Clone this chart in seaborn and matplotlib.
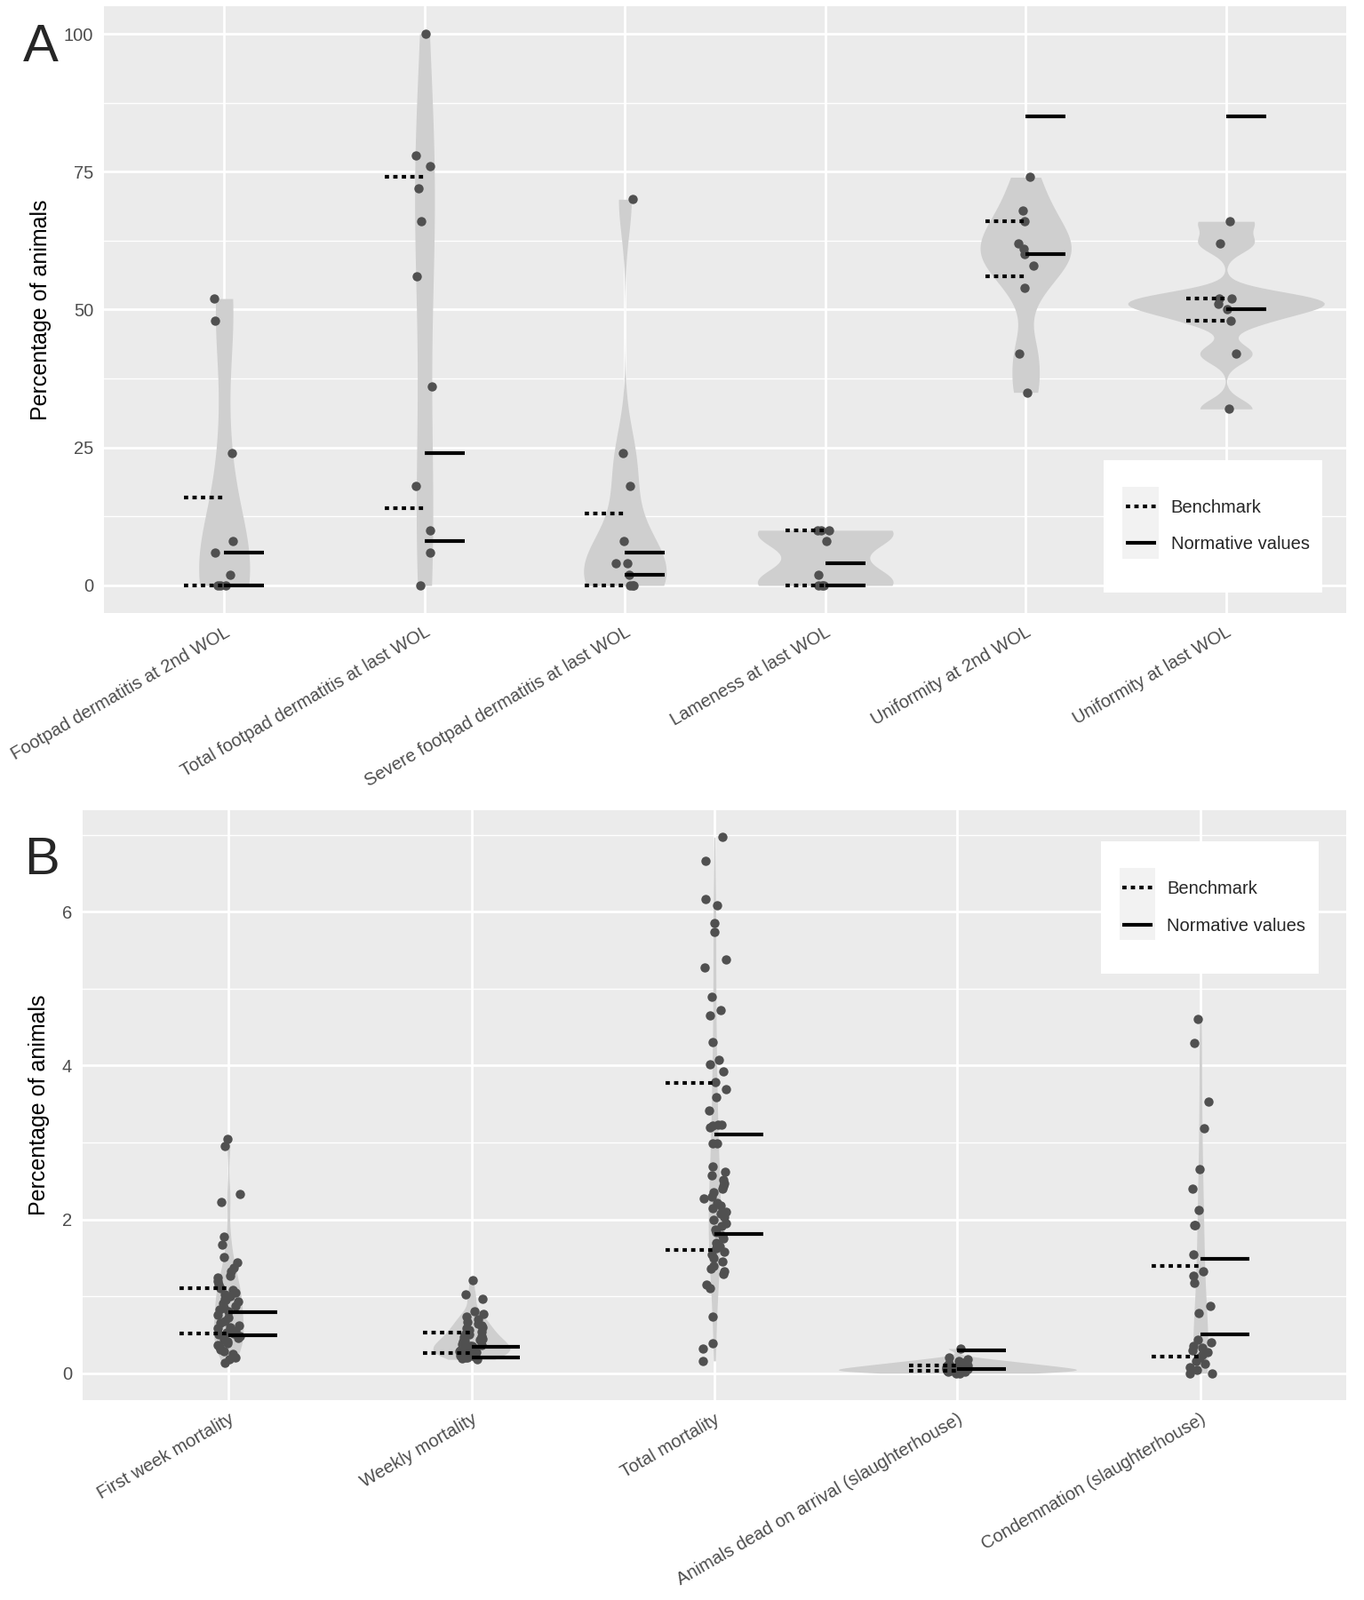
import numpy as np
import pandas as pd
import matplotlib
matplotlib.use("Agg")
import matplotlib.pyplot as plt
from matplotlib.lines import Line2D
from matplotlib.patches import Rectangle
from matplotlib.ticker import MultipleLocator
import seaborn as sns

# ---- panel A data (percent of animals) ----
cats_a = ["Footpad dermatitis at 2nd WOL", "Total footpad dermatitis at last WOL",
          "Severe footpad dermatitis at last WOL", "Lameness at last WOL",
          "Uniformity at 2nd WOL", "Uniformity at last WOL"]
fpd_2nd = [52, 48, 24, 8, 6, 2, 0, 0, 0]
fpd_total = [100, 78, 76, 72, 66, 56, 36, 18, 10, 6, 0]
fpd_severe = [70, 24, 18, 8, 4, 4, 2, 0, 0, 0]
lameness = [10, 10, 10, 8, 2, 0, 0, 0]
unif_2nd = [74, 68, 66, 62, 61, 60, 58, 54, 42, 35]
unif_last = [66, 62, 52, 52, 51, 50, 48, 42, 32]
bench_a = [[16, 0], [74, 14], [13, 0], [10, 0], [66, 56], [52, 48]]
norm_a = [[6, 0], [24, 8], [6, 2], [4, 0], [60, 85], [50, 85]]

# ---- panel B data ----
cats_b = ["First week mortality", "Weekly mortality", "Total mortality",
          "Animals dead on arrival (slaughterhouse)", "Condemnation (slaughterhouse)"]
first_week = [3.05, 2.95, 2.33, 2.23, 1.77, 1.67, 1.51, 1.44, 1.37, 1.32, 1.27, 1.24,
              1.20, 1.15, 1.11, 1.08, 1.05, 1.02, 1.00, 0.97, 0.95, 0.93, 0.91, 0.88,
              0.85, 0.83, 0.80, 0.76, 0.72, 0.68, 0.65, 0.62, 0.60, 0.58, 0.55, 0.53,
              0.52, 0.50, 0.48, 0.46, 0.44, 0.41, 0.39, 0.37, 0.34, 0.31, 0.29, 0.25,
              0.21, 0.18, 0.14]
weekly = [1.21, 1.02, 0.97, 0.80, 0.77, 0.74, 0.70, 0.67, 0.64, 0.62, 0.60, 0.58,
          0.56, 0.54, 0.52, 0.50, 0.48, 0.47, 0.45, 0.44, 0.42, 0.41, 0.40, 0.38,
          0.37, 0.36, 0.35, 0.34, 0.33, 0.32, 0.31, 0.30, 0.29, 0.28, 0.27, 0.26,
          0.25, 0.24, 0.23, 0.22, 0.21, 0.20, 0.19, 0.18]
total = [6.97, 6.66, 6.16, 6.08, 5.85, 5.74, 5.38, 5.27, 4.89, 4.72, 4.65, 4.31,
         4.07, 4.02, 3.92, 3.78, 3.69, 3.59, 3.41, 3.23, 3.23, 3.22, 3.20, 2.99,
         2.99, 2.69, 2.62, 2.57, 2.52, 2.47, 2.43, 2.40, 2.35, 2.30, 2.27, 2.22,
         2.18, 2.15, 2.10, 2.07, 2.03, 2.00, 1.95, 1.91, 1.87, 1.83, 1.79, 1.75,
         1.70, 1.65, 1.62, 1.58, 1.55, 1.50, 1.45, 1.40, 1.36, 1.32, 1.29, 1.15,
         1.10, 0.74, 0.39, 0.32, 0.16]
doa = [0.32, 0.20, 0.18, 0.16, 0.15, 0.14, 0.13, 0.12, 0.11, 0.10, 0.10, 0.09,
       0.08, 0.08, 0.07, 0.06, 0.06, 0.05, 0.05, 0.04, 0.04, 0.03, 0.03, 0.02,
       0.02, 0.01, 0.01, 0.0, 0.0]
condemnation = [4.61, 4.29, 3.53, 3.19, 2.65, 2.40, 2.12, 1.93, 1.93, 1.55, 1.32,
                1.27, 1.17, 0.88, 0.78, 0.43, 0.40, 0.36, 0.33, 0.30, 0.27, 0.24,
                0.20, 0.16, 0.12, 0.08, 0.04, 0.0, 0.0]
bench_b = [[1.11, 0.52], [0.53, 0.26], [3.77, 1.60], [0.10, 0.03], [1.39, 0.22]]
norm_b = [[0.79, 0.49], [0.34, 0.20], [3.10, 1.81], [0.30, 0.05], [1.49, 0.50]]

VIOLIN = "#CFCFCF"
POINT = "#505050"
LW = 3.0
DOTTED = (0, (1.15, 1.15))


def nrd0(x):
    # R's default bandwidth, like ggplot's geom_violin
    x = np.asarray(x, float)
    sd = x.std(ddof=1)
    q75, q25 = np.percentile(x, [75, 25])
    lo = min(sd, (q75 - q25) / 1.34)
    if lo == 0:
        lo = sd
    return 0.9 * lo * len(x) ** -0.2


def peak_density(x, bw):
    x = np.asarray(x, float)
    grid = np.linspace(x.min(), x.max(), 200)
    z = (grid[:, None] - x[None, :]) / bw
    d = np.exp(-0.5 * z ** 2).sum(1) / (len(x) * bw * np.sqrt(2 * np.pi))
    return d.max()


def draw_panel(ax, cats, vals, bench, norm, ylim, major, minor, leg_box):
    bws = [nrd0(v) for v in vals]
    peaks = [peak_density(v, b) for v, b in zip(vals, bws)]
    top = max(peaks)
    # one violin per call so each group keeps its own bandwidth, area-scaled by hand
    for cat, v, bw, pk in zip(cats, vals, bws, peaks):
        sns.violinplot(x=[cat] * len(v), y=v, order=cats, cut=0, inner=None,
                       bw_method=bw / np.std(v, ddof=1), density_norm="area",
                       width=0.98 * pk / top, color=VIOLIN, saturation=1,
                       linewidth=0, ax=ax)

    df = pd.DataFrame({"cat": np.repeat(cats, [len(v) for v in vals]),
                       "val": np.concatenate(vals)})
    sns.stripplot(data=df, x="cat", y="val", order=cats, jitter=0.05, color=POINT,
                  size=7.5, linewidth=0, zorder=3, ax=ax)

    for i, (b, n) in enumerate(zip(bench, norm)):
        for y in b:
            ax.plot([i - 0.2, i], [y, y], color="black", lw=LW, ls=DOTTED,
                    dash_capstyle="butt", zorder=4)
        for y in n:
            ax.plot([i, i + 0.2], [y, y], color="black", lw=LW,
                    solid_capstyle="butt", zorder=4)

    ax.set_xlim(-0.6, len(cats) - 0.4)
    ax.set_ylim(*ylim)
    ax.yaxis.set_major_locator(MultipleLocator(major))
    ax.yaxis.set_minor_locator(MultipleLocator(minor))
    ax.set_facecolor("#EBEBEB")
    ax.set_axisbelow(True)
    ax.grid(which="major", color="white", lw=2.0)
    ax.grid(which="minor", axis="y", color="white", lw=1.0)
    for s in ax.spines.values():
        s.set_visible(False)
    ax.tick_params(which="major", length=5, width=1.2, color="#333333",
                   labelcolor="#4D4D4D", labelsize=14.5)
    ax.tick_params(which="minor", length=0)
    ax.set_xlabel("")
    ax.set_ylabel("Percentage of animals", fontsize=18, color="black", labelpad=10)
    plt.setp(ax.get_xticklabels(), rotation=30, ha="right", va="top",
             rotation_mode="anchor")

    # legend box (white) with grey key background, as in ggplot
    x0, y0, w, h = leg_box
    ax.add_patch(Rectangle((x0, y0), w, h, transform=ax.transAxes,
                           facecolor="white", edgecolor="none", zorder=5))
    ax.add_patch(Rectangle((x0 + 0.085 * w, y0 + 0.255 * h), 0.165 * w, 0.545 * h,
                           transform=ax.transAxes, facecolor="#F2F2F2",
                           edgecolor="none", zorder=5))
    handles = [Line2D([], [], color="black", lw=LW, ls=DOTTED, dash_capstyle="butt"),
               Line2D([], [], color="black", lw=LW, solid_capstyle="butt")]
    leg = ax.legend(handles, ["Benchmark", "Normative values"], loc="center",
                    bbox_to_anchor=(x0 + 0.02 * w, y0, w, h), fontsize=14.5,
                    frameon=False, handlelength=1.7, handletextpad=0.8,
                    labelspacing=1.1, borderpad=0.0)
    leg.set_zorder(6)


sns.set_style("darkgrid")
plt.rcParams["font.family"] = ["Liberation Sans", "DejaVu Sans"]

W, H = 1535, 1801
fig = plt.figure(figsize=(W / 100, H / 100), dpi=100)
ax_a = fig.add_axes([117 / W, 1 - 690 / H, (1515 - 117) / W, (690 - 7) / H])
ax_b = fig.add_axes([93 / W, 1 - 1576 / H, (1515 - 93) / W, (1576 - 912) / H])

draw_panel(ax_a, cats_a, [fpd_2nd, fpd_total, fpd_severe, lameness, unif_2nd, unif_last],
           bench_a, norm_a, (-5, 105), 25, 12.5, (0.805, 0.034, 0.176, 0.218))
draw_panel(ax_b, cats_b, [first_week, weekly, total, doa, condemnation],
           bench_b, norm_b, (-0.35, 7.32), 2, 1, (0.806, 0.723, 0.172, 0.224))

fig.text(26 / W, 1 - 26 / H, "A", fontsize=43, va="top", ha="left")
fig.text(27 / W, 1 - 941 / H, "B", fontsize=43, va="top", ha="left")

fig.savefig("out.png", dpi=100, facecolor="white")
